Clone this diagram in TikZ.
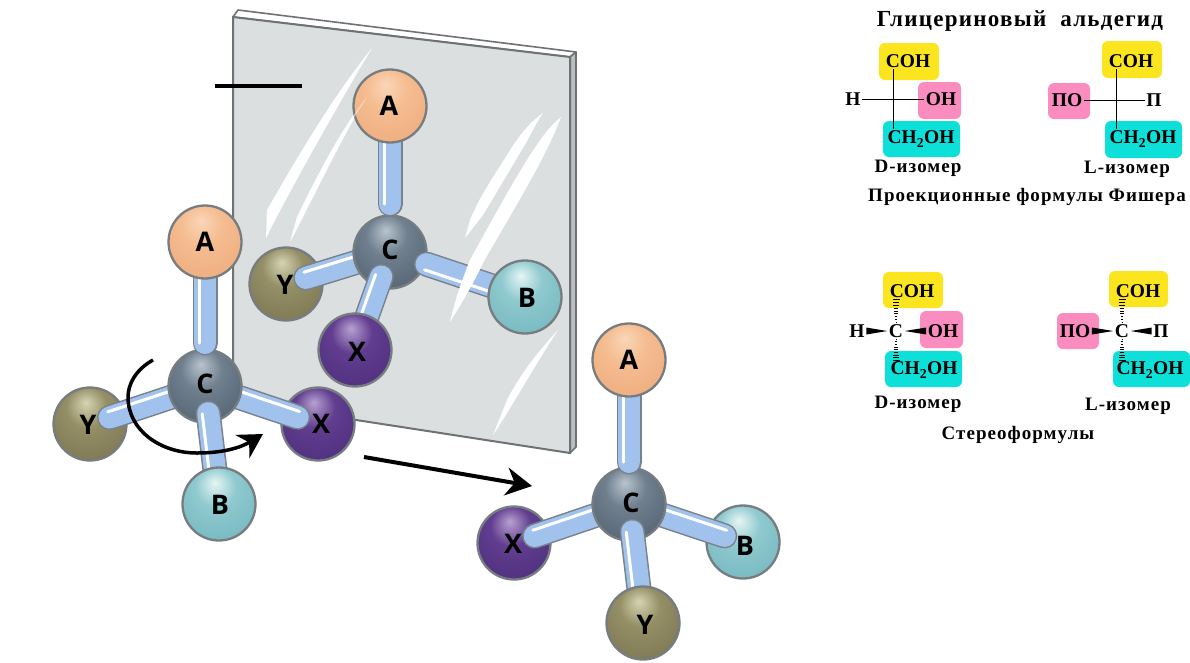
\documentclass[tikz,border=0pt]{standalone}
\usepackage{fontspec}
\setmainfont{Liberation Serif}
\setsansfont{Open Sans}
\newfontfamily\wideserif[LetterSpace=5.5]{Liberation Serif}
\usetikzlibrary{calc}
\usetikzlibrary{arrows.meta}
\definecolor{ballrim}{HTML}{767C80}
\definecolor{pipeblue}{HTML}{A0C2EC}
\definecolor{pipeedge}{HTML}{78828C}
\definecolor{glass}{HTML}{DCDFE0}
\definecolor{glassedge}{HTML}{6E7275}
\definecolor{boxyellow}{HTML}{FBE51E}
\definecolor{boxpink}{HTML}{FA8CC0}
\definecolor{boxcyan}{HTML}{0CE0D8}
\newcommand{\balltype}[4]{\pgfdeclareradialshading{ball#1}{\pgfpoint{-3bp}{15bp}}{rgb(0bp)=(#2); rgb(14bp)=(#3); rgb(62bp)=(#4)}}
\balltype{A}{.98,.84,.72}{.96,.74,.57}{.90,.60,.40}
\balltype{C}{.72,.77,.81}{.44,.50,.56}{.20,.26,.31}
\balltype{Y}{.84,.83,.70}{.58,.56,.40}{.38,.36,.24}
\balltype{X}{.72,.63,.82}{.38,.24,.56}{.22,.12,.42}
\balltype{B}{.90,.96,.96}{.56,.79,.81}{.34,.64,.68}
\newcommand{\pipe}[3]{
 \draw[pipeedge, line width=25, line cap=round] (#1) -- (#2);
 \draw[pipeblue, line width=22, line cap=round] (#1) -- (#2);
 \draw[white, line width=3, line cap=round] ($(#1)!6pt!#3:(#2)$) -- ($(#2)!6pt!-#3:(#1)$);
}
\newcommand{\wedgebond}[2]{\fill[black] ($(#1)+(0,-3.5)$) -- ($(#1)+(0,3.5)$) -- (#2) -- cycle;}
\newcommand{\hashbond}[2]{\foreach \t in {0,.125,...,1} {
 \draw[black, line width=.9] ($(#1)!\t!(#2)+(-.5-3*\t,0)$) -- ($(#1)!\t!(#2)+(.5+3*\t,0)$);
}}
\tikzset{
 ball/.style={circle, draw=ballrim, line width=2.3, minimum size=73pt, inner sep=0, shading=ball#1},
 atomtext/.style={font=\sffamily\bfseries\fontsize{27}{27}\selectfont, inner sep=0},
 chem/.style={font=\bfseries\fontsize{19.5}{20}\selectfont, inner sep=1.5},
 caption/.style={font=\wideserif\bfseries\fontsize{19}{19}\selectfont, inner sep=0},
 colorbox/.style={rounded corners=6},
 streak/.style={white},
}
\begin{document}
\begin{tikzpicture}[x=1pt,y=-1pt]
\useasboundingbox (0,0) rectangle (1190,662);
% mirror
\filldraw[white, draw=glassedge, line width=1.6, line join=round] (233,17)--(238,10)--(576,52)--(570,57)--cycle;
\filldraw[glass!70!glassedge, draw=glassedge, line width=1.6, line join=round] (570,57)--(576,52)--(576,447)--(570,453)--cycle;
\filldraw[glass, draw=glassedge, line width=2] (233,17)--(570,57)--(570,453)--(233,401)--cycle;
\fill[streak] (372,48) .. controls (330,100) and (290,170) .. (267,210) -- (266,238) .. controls (290,190) and (335,110) .. cycle;
\fill[streak] (367,97) .. controls (340,130) and (315,180) .. (297,217) -- (290,242) .. controls (305,215) and (340,140) .. cycle;
\fill[streak] (543,113) .. controls (530,122) and (520,135) .. (512,147) .. controls (495,175) and (480,195) .. (470,220) -- (465,238) -- (483,215) .. controls (495,195) and (510,170) .. (520,153) .. controls (528,140) and (535,125) .. cycle;
\fill[streak] (558,330) .. controls (535,355) and (520,375) .. (507,400) -- (493,435) .. controls (510,410) and (535,365) .. cycle;
\coordinate (barL) at (215,86);
\coordinate (barR) at (302,86);
\draw[black, line width=3.5] (barL) -- (barR);

% molecule on the mirror
\node[ball=Y] (mY) at (286,284) {};
\coordinate (mYend) at ($(mY)!.19!(390,252)$);
\pipe{mYend}{390,252}{90}
\node[ball=C] (mC) at (390,252) {};
\coordinate (mAend) at (390,204);
\coordinate (mXend) at ($(mC)!.25!(355,350)$);
\coordinate (mBend) at ($(mC)!.27!(525,297)$);
\pipe{mXend}{355,350}{-90}
\pipe{mBend}{525,297}{-90}
\pipe{mAend}{390,106}{90}
\node[ball=X] (mX) at (355,350) {};
\node[ball=A] (mA) at (390,106) {};
\node[ball=B] (mB) at (525,297) {};
\fill[streak] (561,117) .. controls (545,130) and (530,150) .. (470,260) .. controls (462,280) and (455,300) .. (450,322) .. controls (465,298) and (475,280) .. (483,263) .. controls (510,215) and (545,160) .. cycle;
\fill[white, opacity=.45] (367,97) .. controls (355,112) and (345,128) .. (335,145) -- (350,125) .. controls (355,115) and (362,106) .. cycle;

% molecule in front
\node[ball=Y] (lY) at (90,424) {};
\node[ball=X] (lX) at (318,424) {};
\coordinate (lYend) at ($(lY)!.17!(205,386)$);
\coordinate (lXend) at ($(lX)!.18!(205,386)$);
\pipe{lYend}{205,386}{90}
\pipe{lXend}{205,386}{-90}
\node[ball=C] (lC) at (205,386) {};
\coordinate (lAend) at (205,343);
\coordinate (lBend) at ($(lC)!.23!(219,504)$);
\pipe{lAend}{205,242}{90}
\pipe{lBend}{219,504}{-90}
\node[ball=A] (lA) at (205,242) {};
\node[ball=B] (lB) at (219,504) {};

% molecule on the right
\node[ball=X] (rX) at (514,543) {};
\node[ball=B] (rB) at (743,542) {};
\coordinate (rXend) at ($(rX)!.18!(629,504)$);
\coordinate (rBend) at ($(rB)!.16!(629,504)$);
\pipe{rXend}{629,504}{90}
\pipe{rBend}{629,504}{-90}
\node[ball=C] (rC) at (629,504) {};
\coordinate (rAend) at (629,462);
\coordinate (rYend) at ($(rC)!.23!(643,623)$);
\pipe{rAend}{629,360}{90}
\pipe{rYend}{643,623}{-90}
\node[ball=A] (rA) at (629,360) {};
\node[ball=Y] (rY) at (643,623) {};

\foreach \n/\t/\x/\y in {mTa/A/389/106, mTc/C/390/250, mTy/Y/285/285, mTx/X/357/352, mTb/B/527/298,
 lTa/A/205/242, lTc/C/205/384, lTy/Y/88/425, lTx/X/321/424, lTb/B/220/505,
 rTa/A/629/360, rTc/C/631/503, rTx/X/513/544, rTb/B/745/546, rTy/Y/645/625} {
 \node[atomtext] (\n) at (\x,\y) {\t};
}

% arrows
\coordinate (turnA) at (153,360);
\coordinate (turnB) at (263,434);
\draw[black, line width=3.5, -{Stealth[length=24, width=27]}] (turnA) .. controls (135,370) and (128,385) .. (128,397) .. controls (128,430) and (160,453) .. (197,453) .. controls (222,453) and (240,448) .. (turnB);
\coordinate (goA) at (364,457);
\coordinate (goB) at (532,486);
\draw[black, line width=4, -{Stealth[length=26, width=28]}] (goA) -- (goB);

% formulas, Fischer
\node[font=\wideserif\bfseries\fontsize{23}{23}\selectfont, inner sep=0] (title) at (1020,21) {Глицериновый\ \ альдегид};
\fill[boxyellow, colorbox] (879,43) rectangle (939,80);
\fill[boxpink, colorbox] (918,82) rectangle (961,119);
\fill[boxcyan, colorbox] (883,121) rectangle (960,157);
\fill[boxyellow, colorbox] (1102,41) rectangle (1162,78);
\fill[boxpink, colorbox] (1048,83) rectangle (1090,119);
\fill[boxcyan, colorbox] (1105,121) rectangle (1182,158);
\node[chem] (fdC) at (908,61) {COH};
\node[chem] (fdR) at (941,99) {OH};
\node[chem] (fdL) at (853,99) {H};
\node[chem] (fdB) at (921,139) {CH\textsubscript{2}OH};
\node[chem] (flC) at (1131,61) {COH};
\node[chem] (flL) at (1067,100) {ПО};
\node[chem] (flR) at (1154,100) {П};
\node[chem] (flB) at (1143,139) {CH\textsubscript{2}OH};
\coordinate (fdX) at (893,99);
\coordinate (flX) at (1116,100);
\draw[black, line width=.9] (fdL) -- (fdR);
\draw[black, line width=.9] (fdX |- fdC.south) -- (fdX |- fdB.north);
\draw[black, line width=.9] (flL) -- (flR);
\draw[black, line width=.9] (flX |- flC.south) -- (flX |- flB.north);
\node[caption] (fdN) at (918,168) {D-изомер};
\node[caption] (flN) at (1127,169) {L-изомер};
\node[caption] (fName) at (1027,197) {Проекционные формулы Фишера};

% formulas, stereo
\fill[boxyellow, colorbox] (883,272) rectangle (943,308);
\fill[boxpink, colorbox] (920,311) rectangle (963,348);
\fill[boxcyan, colorbox] (885,351) rectangle (962,387);
\fill[boxyellow, colorbox] (1109,271) rectangle (1168,307);
\fill[boxpink, colorbox] (1057,313) rectangle (1099,349);
\fill[boxcyan, colorbox] (1113,351) rectangle (1190,387);
\node[chem] (sdC) at (912,291) {COH};
\node[chem] (sdM) at (896,331) {C};
\node[chem] (sdL) at (857,331) {H};
\node[chem] (sdR) at (943,331) {OH};
\node[chem] (sdB) at (924,370) {CH\textsubscript{2}OH};
\node[chem] (slC) at (1138,291) {COH};
\node[chem] (slM) at (1122,331) {C};
\node[chem] (slL) at (1075,331) {ПО};
\node[chem] (slR) at (1161,331) {П};
\node[chem] (slB) at (1150,370) {CH\textsubscript{2}OH};
\wedgebond{sdL.east}{sdM.west}
\wedgebond{sdR.west}{sdM.east}
\wedgebond{slL.east}{slM.west}
\wedgebond{slR.west}{slM.east}
\coordinate (sdU) at (sdM |- sdC.south);
\coordinate (sdD) at (sdM |- sdB.north);
\coordinate (slU) at (slM |- slC.south);
\coordinate (slD) at (slM |- slB.north);
\hashbond{sdM.north}{sdU}
\hashbond{sdM.south}{sdD}
\hashbond{slM.north}{slU}
\hashbond{slM.south}{slD}
\node[caption] (sdN) at (918,404) {D-изомер};
\node[caption] (slN) at (1128,406) {L-изомер};
\node[caption] (sName) at (1018,435) {Стереоформулы};
\end{tikzpicture}
\end{document}
